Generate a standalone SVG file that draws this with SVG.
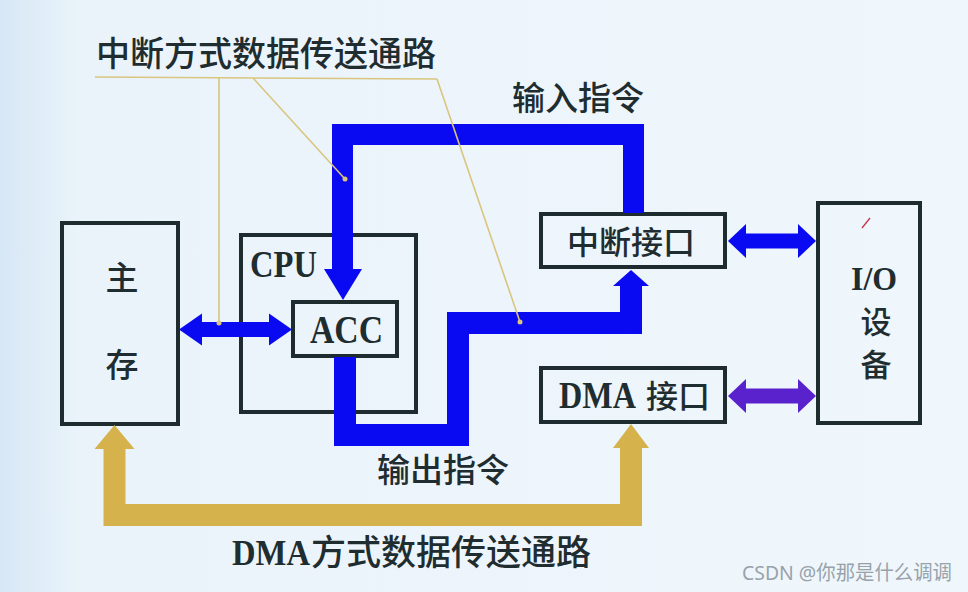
<svg xmlns="http://www.w3.org/2000/svg" width="968" height="592" viewBox="0 0 968 592">
<defs>
<linearGradient id="bg" x1="0" y1="0" x2="1" y2="0">
<stop offset="0" stop-color="#d6e7f5"/>
<stop offset="0.08" stop-color="#eaf3fa"/>
<stop offset="1" stop-color="#eff7fc"/>
</linearGradient>
<style>
.box{fill:none;stroke:#1e2c30;stroke-width:4}
.blue{fill:none;stroke:#0a0af2;stroke-linejoin:miter;stroke-linecap:butt}
.bluef{fill:#0a0af2}
.gold{fill:none;stroke:#d5b24c;stroke-width:22;stroke-linejoin:miter}
.goldf{fill:#d5b24c}
.lead{fill:none;stroke:#d9c57e;stroke-width:1.6}
.dot{fill:#d9c57e}
.cn{font-family:"Noto Sans CJK SC","Noto Sans",sans-serif;font-weight:500;fill:#1f2d30}
.en{font-family:"Liberation Serif","DejaVu Serif",serif;font-weight:bold;fill:#1f2d30}
</style>
</defs>
<rect x="0" y="0" width="968" height="592" fill="url(#bg)"/>

<g id="node-main">
<rect class="box" x="62" y="223" width="116" height="201"/>
<text class="cn" x="122" y="290" font-size="33" text-anchor="middle">主</text>
<text class="cn" x="122" y="377" font-size="33" text-anchor="middle">存</text>
</g>
<g id="node-cpu">
<rect class="box" x="241" y="235" width="175" height="177"/>
<text class="en" x="250" y="277" font-size="37" textLength="67" lengthAdjust="spacingAndGlyphs">CPU</text>
</g>
<g id="node-acc">
<rect class="box" x="293" y="302" width="104" height="54"/>
<text class="en" x="310" y="343" font-size="39" textLength="73" lengthAdjust="spacingAndGlyphs">ACC</text>
</g>
<g id="node-int">
<rect class="box" x="541" y="214" width="184" height="53"/>
<text class="cn" x="631" y="254" font-size="32" text-anchor="middle">中断接口</text>
</g>
<g id="node-dma">
<rect class="box" x="541" y="368" width="184" height="54"/>
<text class="en" x="559" y="408" font-size="37" textLength="77" lengthAdjust="spacingAndGlyphs">DMA</text>
<text class="cn" x="646" y="408" font-size="32">接口</text>
</g>
<g id="node-io">
<rect class="box" x="818" y="203" width="102" height="220"/>
<text class="en" x="851" y="290" font-size="33" textLength="46" lengthAdjust="spacingAndGlyphs">I/O</text>
<text class="cn" x="876" y="333" font-size="31" text-anchor="middle">设</text>
<text class="cn" x="876" y="376" font-size="31" text-anchor="middle">备</text>
<path d="M870,218 L862,228" stroke="#c8304a" stroke-width="1.3" fill="none"/>
</g>

<g id="connectors">
<path class="blue" stroke-width="21" d="M633.5,213 V134.5 H342.5 V270"/>
<polygon class="bluef" points="324,269 362,269 343,300"/>
<path class="blue" stroke-width="22" d="M345,357 V435 H458 V323 H631 V286"/>
<polygon class="bluef" points="613,286 649,286 631,270"/>
<polygon class="bluef" points="179,329.5 202,313.5 202,322 269,322 269,313.5 292,329.5 269,345.5 269,337 202,337 202,345.5"/>
<polygon class="bluef" points="728,241 746,224 746,233.5 798,233.5 798,224 816,241 798,258 798,248.5 746,248.5 746,258"/>
<polygon fill="#5a22cc" points="728,396 746,379 746,388.5 798,388.5 798,379 816,396 798,413 798,403.5 746,403.5 746,413"/>
<path class="gold" d="M114.5,449 V515 H631 V448"/>
<polygon class="goldf" points="94.5,449 134.5,449 114.5,425"/>
<polygon class="goldf" points="613,448 649,448 631,424"/>
</g>

<g id="leaders">
<path class="lead" d="M95,77 L437,79"/>
<path class="lead" d="M219,78 V323"/>
<path class="lead" d="M253,78 L345,179"/>
<path class="lead" d="M437,79 L520,322"/>
<circle class="dot" cx="219" cy="323" r="2.5"/>
<circle class="dot" cx="345" cy="179" r="2.5"/>
<circle class="dot" cx="520" cy="322" r="2.5"/>
</g>

<g id="labels">
<text class="cn" x="96" y="66" font-size="34">中断方式数据传送通路</text>
<text class="cn" x="512" y="110" font-size="33">输入指令</text>
<text class="cn" x="377" y="482" font-size="33">输出指令</text>
<text x="232" y="565"><tspan class="en" font-size="35" textLength="78" lengthAdjust="spacingAndGlyphs">DMA</tspan><tspan class="cn" x="311" font-size="35">方式数据传送通路</tspan></text>
<text x="742" y="580" font-family="'Noto Sans','Noto Sans CJK SC',sans-serif" font-size="20" fill="#98a2ab" textLength="210" lengthAdjust="spacingAndGlyphs">CSDN @你那是什么调调</text>
</g>
</svg>
